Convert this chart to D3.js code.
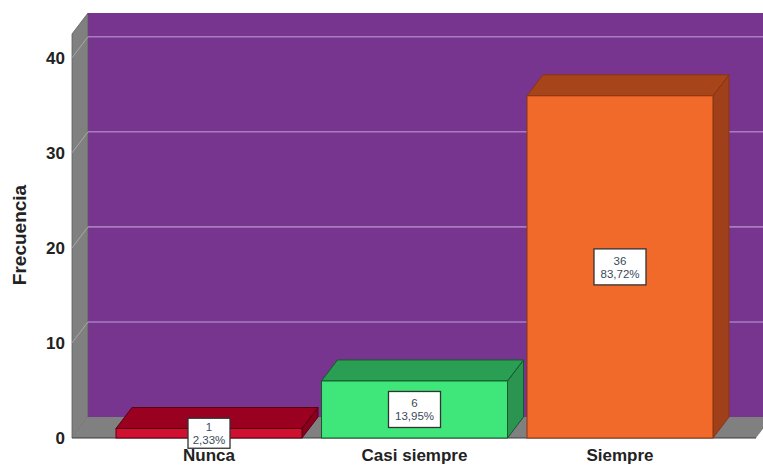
<!DOCTYPE html>
<html>
<head>
<meta charset="utf-8">
<script src="https://cdn.jsdelivr.net/npm/d3@7"></script>
<style>
  html, body { margin: 0; padding: 0; background: #fff; }
  svg { display: block; }
  text { font-family: "Liberation Sans", Arial, sans-serif; }
</style>
</head>
<body>
<svg id="chart" width="763" height="466"></svg>
<script>
// Frequency data
const categories = ["Nunca", "Casi siempre", "Siempre"];
const counts = [1, 6, 36];
const percentLabels = ["2,33%", "13,95%", "83,72%"];
const yTicks = [0, 10, 20, 30, 40];

const frontColors = ["#cf1030", "#3fe67a", "#f26a2a"];
const topColors = ["#9a0020", "#2a9e52", "#a8441a"];
const sideColors = ["#8a001c", "#2a9450", "#a0401a"];
const edgeColors = ["#5a0012", "#145a2c", "#8a3412"];

const W = 763, H = 466;
const DX = 16, DY = 21; // depth offset of the 3D box

const svg = d3.select("#chart");

const y = d3.scaleLinear().domain([0, 42.5]).range([438, 34]);
const x = d3.scaleBand().domain(categories).range([96.5, 732.5]).padding(0.095);

const plotLeft = 72, plotRight = 756;
const base = y(0), plotTop = y(42.5);

// back wall
svg.append("rect")
  .attr("x", plotLeft + DX).attr("y", plotTop - DY)
  .attr("width", W - plotLeft - DX + 5).attr("height", base - plotTop)
  .attr("fill", "#77358f");

// left wall
svg.append("polygon")
  .attr("points", [[plotLeft, plotTop], [plotLeft + DX, plotTop - DY], [plotLeft + DX, base - DY], [plotLeft, base]].join(" "))
  .attr("fill", "#808080").attr("stroke", "#5a5a5a").attr("stroke-width", 0.8);

// floor
svg.append("polygon")
  .attr("points", [[plotLeft, base], [plotLeft + DX, base - DY], [plotRight + DX, base - DY], [plotRight, base]].join(" "))
  .attr("fill", "#808080");
svg.append("line")
  .attr("x1", plotLeft).attr("x2", plotRight).attr("y1", base).attr("y2", base)
  .attr("stroke", "#3a3a3a").attr("stroke-width", 1.2);

// grid lines on back wall and left wall
yTicks.filter(d => d > 0).forEach(v => {
  svg.append("line")
    .attr("x1", plotLeft + DX).attr("x2", W)
    .attr("y1", y(v) - DY).attr("y2", y(v) - DY)
    .attr("stroke", "#a97cc0").attr("stroke-width", 1.6);
  svg.append("line")
    .attr("x1", plotLeft).attr("x2", plotLeft + DX)
    .attr("y1", y(v)).attr("y2", y(v) - DY)
    .attr("stroke", "#a8a8a8").attr("stroke-width", 1);
});

// y tick labels
svg.selectAll("text.ytick").data(yTicks).join("text")
  .attr("class", "ytick")
  .attr("x", 65).attr("y", d => y(d) + 6)
  .attr("text-anchor", "end")
  .attr("font-size", 17).attr("font-weight", "bold").attr("fill", "#222")
  .text(d => d);

// y axis title
svg.append("text")
  .attr("transform", `translate(26,${235}) rotate(-90)`)
  .attr("text-anchor", "middle")
  .attr("font-size", 19).attr("font-weight", "bold").attr("fill", "#222")
  .text("Frecuencia");

// 3D bars
const bw = x.bandwidth();
categories.forEach((c, i) => {
  const x0 = x(c), yt = y(counts[i]);
  const g = svg.append("g");
  g.append("polygon")
    .attr("points", [[x0 + bw, yt], [x0 + bw + DX, yt - DY], [x0 + bw + DX, base - DY], [x0 + bw, base]].join(" "))
    .attr("fill", sideColors[i]).attr("stroke", edgeColors[i]).attr("stroke-width", 1);
  g.append("polygon")
    .attr("points", [[x0, yt], [x0 + DX, yt - DY], [x0 + bw + DX, yt - DY], [x0 + bw, yt]].join(" "))
    .attr("fill", topColors[i]).attr("stroke", edgeColors[i]).attr("stroke-width", 1);
  g.append("rect")
    .attr("x", x0).attr("y", yt).attr("width", bw).attr("height", base - yt)
    .attr("fill", frontColors[i]).attr("stroke", edgeColors[i]).attr("stroke-width", 1);
});

// value labels
categories.forEach((c, i) => {
  const cx = x(c) + bw / 2;
  const cy = (y(counts[i]) + base) / 2;
  const g = svg.append("g").attr("transform", `translate(${cx},${cy})`);
  const bwid = i === 0 ? 42 : 52, bh = i === 0 ? 30 : 36;
  g.append("rect")
    .attr("x", -bwid / 2).attr("y", -bh / 2).attr("width", bwid).attr("height", bh)
    .attr("fill", "#fff").attr("stroke", "#333").attr("stroke-width", 1.3);
  g.append("text").attr("y", -2).attr("text-anchor", "middle")
    .attr("font-size", 11.5).attr("fill", "#3a4a5a").text(counts[i]);
  g.append("text").attr("y", 11).attr("text-anchor", "middle")
    .attr("font-size", 11.5).attr("fill", "#3a4a5a").text(percentLabels[i]);
});

// category labels
svg.selectAll("text.xcat").data(categories).join("text")
  .attr("class", "xcat")
  .attr("x", d => x(d) + bw / 2).attr("y", 461)
  .attr("text-anchor", "middle")
  .attr("font-size", 17).attr("font-weight", "bold").attr("fill", "#222")
  .text(d => d);
</script>
</body>
</html>
